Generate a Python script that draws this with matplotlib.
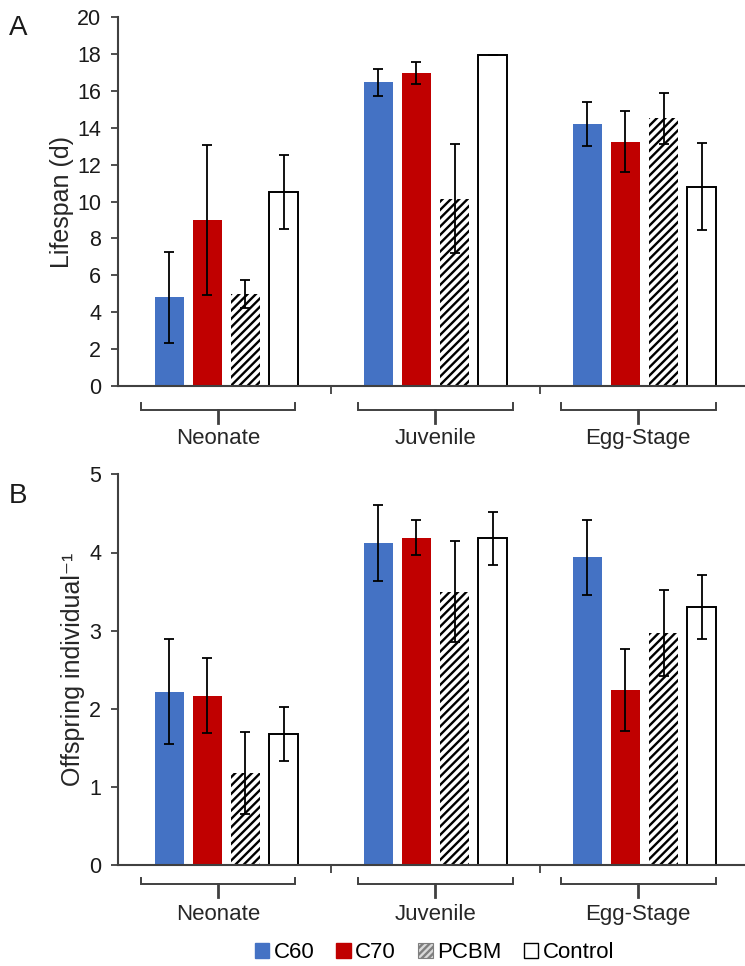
import matplotlib
matplotlib.use("Agg")
import matplotlib.pyplot as plt
from matplotlib.patches import Patch
from matplotlib.transforms import blended_transform_factory
import numpy as np

plt.rcParams['font.family'] = ['Liberation Sans', 'DejaVu Sans']
plt.rcParams['hatch.linewidth'] = 1.7

stages = ["Neonate", "Juvenile", "Egg-Stage"]
treatments = ["C60", "C70", "PCBM", "Control"]

# Lifespan (d): rows = treatments, cols = stages
life_mean = {
    "C60":     [4.8, 16.45, 14.2],
    "C70":     [9.0, 16.95, 13.25],
    "PCBM":    [5.0, 10.15, 14.5],
    "Control": [10.5, 17.95, 10.8],
}
life_err = {
    "C60":     [2.45, 0.72, 1.17],
    "C70":     [4.05, 0.6, 1.65],
    "PCBM":    [0.75, 2.95, 1.4],
    "Control": [2.0, 0.0, 2.35],
}
# Offspring individual^-1
off_mean = {
    "C60":     [2.22, 4.12, 3.94],
    "C70":     [2.17, 4.19, 2.24],
    "PCBM":    [1.18, 3.50, 2.97],
    "Control": [1.68, 4.18, 3.30],
}
off_err = {
    "C60":     [0.67, 0.49, 0.48],
    "C70":     [0.48, 0.22, 0.52],
    "PCBM":    [0.53, 0.65, 0.55],
    "Control": [0.35, 0.34, 0.41],
}

styles = {
    "C60":     dict(color="#4472C4", edgecolor="none", linewidth=0),
    "C70":     dict(color="#C00000", edgecolor="none", linewidth=0),
    "PCBM":    dict(facecolor="white", edgecolor="black", linewidth=0, hatch="////"),
    "Control": dict(facecolor="white", edgecolor="black", linewidth=1.4),
}

W, H = 745, 966
fig = plt.figure(figsize=(W / 100, H / 100), dpi=100)

left_px, right_px = 118, 749
axA = fig.add_axes([left_px / W, 1 - 386 / H, (right_px - left_px) / W, 369 / H])
axB = fig.add_axes([left_px / W, 1 - 865.3 / H, (right_px - left_px) / W, 391 / H])

bar_w = 0.14
spacing = 0.182
offsets = (np.arange(4) - 1.5) * spacing
x = np.arange(len(stages))
spine_col = "#404040"
bracket_shift = [-0.04, 0.0, -0.03]


def draw(ax, means, errs, ymax, yticks, ylabel, ylab_x, geom):
    for i, t in enumerate(treatments):
        ax.bar(x + offsets[i], means[t], bar_w, **styles[t], zorder=2)
        ax.errorbar(x + offsets[i], means[t], yerr=errs[t], fmt="none",
                    ecolor="black", elinewidth=1.3, capsize=3.5, capthick=1.3, zorder=3)
    ax.set_xlim(-0.519, 2.5)
    ax.set_ylim(0, ymax)
    ax.set_yticks(yticks)
    ax.tick_params(axis="y", direction="out", length=5, width=1.3, color=spine_col,
                   labelsize=15.5, pad=7, labelcolor="#1a1a1a")
    ax.set_xticks([0.5, 1.5])
    ax.set_xticklabels([])
    ax.tick_params(axis="x", direction="out", length=6, width=1.3, color=spine_col)
    for s in ["top", "right"]:
        ax.spines[s].set_visible(False)
    for s in ["left", "bottom"]:
        ax.spines[s].set_color(spine_col)
        ax.spines[s].set_linewidth(1.5)
    ax.set_ylabel(ylabel, fontsize=18, color="#262626")
    ax.yaxis.set_label_coords(ylab_x, 0.5)
    tr = blended_transform_factory(ax.transData, ax.transAxes)
    yb, yend, ytick, ylab = geom
    for i, st in enumerate(stages):
        c = x[i] + bracket_shift[i]
        hw = 0.37
        ax.plot([c - hw, c - hw, c + hw, c + hw], [yend, yb, yb, yend], transform=tr,
                color=spine_col, lw=1.4, clip_on=False, solid_joinstyle="miter")
        ax.plot([c, c], [yb, ytick], transform=tr, color=spine_col, lw=2.0, clip_on=False)
        ax.text(c, ylab, st, transform=tr, ha="center", va="center", fontsize=16,
                color="#262626")


draw(axA, life_mean, life_err, 20, np.arange(0, 21, 2), "Lifespan (d)", -0.07,
     (-0.065, -0.046, -0.100, -0.141))
draw(axB, off_mean, off_err, 5, np.arange(0, 6, 1), "Offspring individual⁻¹", -0.052,
     (-0.048, -0.032, -0.081, -0.125))

fig.text(18 / W, 1 - 28 / H, "A", fontsize=20, ha="center", va="center", color="#1a1a1a")
fig.text(18 / W, 1 - 496 / H, "B", fontsize=20, ha="center", va="center", color="#1a1a1a")

handles = [
    Patch(facecolor="#4472C4", edgecolor="#4472C4"),
    Patch(facecolor="#C00000", edgecolor="#C00000"),
    Patch(facecolor="#d9d9d9", edgecolor="#7f7f7f", hatch="/////", linewidth=0.8),
    Patch(facecolor="white", edgecolor="black", linewidth=1.0),
]
fig.legend(handles, treatments, loc="center", bbox_to_anchor=(0.583, 1 - 953 / H),
           ncol=4, frameon=False, fontsize=16, handlelength=0.65, handleheight=0.65,
           handletextpad=0.2, columnspacing=1.0, borderaxespad=0)

fig.savefig("out.png", dpi=100)
